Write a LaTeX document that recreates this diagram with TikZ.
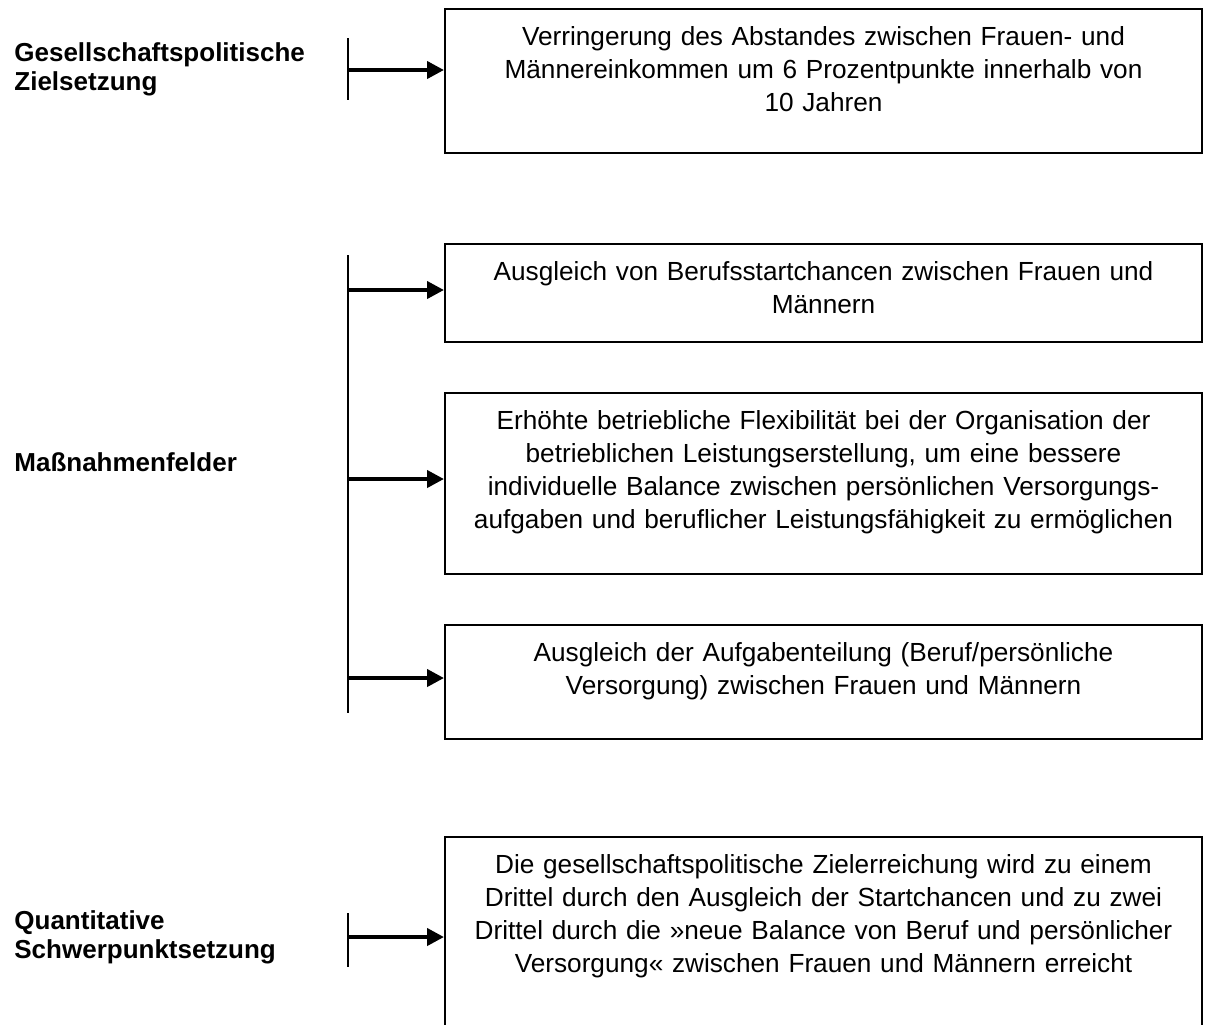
\documentclass[tikz,border=0pt]{standalone}
\usepackage{fontspec}
\setmainfont{Liberation Sans}
\usetikzlibrary{arrows.meta}
\tikzset{
	feld/.style={draw, line width=1pt, minimum width=378.5pt, inner sep=0pt},
	feldtext/.style={anchor=base, yshift=-18.5pt, text width=376pt, align=center, inner sep=0pt, font=\fontsize{13.1pt}{16.5pt}\selectfont},
	ebene/.style={anchor=base west, text width=160pt, align=left, inner sep=0pt, font=\fontsize{13pt}{14.5pt}\selectfont\bfseries},
	pfeil/.style={line width=2pt, -{Triangle[length=8.5pt,width=8.5pt]}},
	balken/.style={line width=1pt}
}
\begin{document}
\begin{tikzpicture}[x=0.5pt,y=-0.5pt]
				\useasboundingbox (0,0) rectangle (1218,1024);
				\clip (0,0) rectangle (1218,1024);
				
				\node[feld, minimum height=72pt] (ziel) at (823.5,81) {};
				\node[feld, minimum height=49pt] (feldA) at (823.5,293) {};
				\node[feld, minimum height=90.5pt] (feldB) at (823.5,483.5) {};
				\node[feld, minimum height=57pt] (feldC) at (823.5,682) {};
				\node[feld, minimum height=111.5pt] (schwer) at (823.5,948.5) {};
				
				\node[feldtext] (zielText) at (ziel.north) {Verringerung des Abstandes zwischen Frauen- und\\ Männereinkommen um 6 Prozentpunkte innerhalb von\\ 10 Jahren};
				\node[feldtext] (feldAText) at (feldA.north) {Ausgleich von Berufsstartchancen zwischen Frauen und\\ Männern};
				\node[feldtext] (feldBText) at (feldB.north) {Erhöhte betriebliche Flexibilität bei der Organisation der\\ betrieblichen Leistungserstellung, um eine bessere\\ individuelle Balance zwischen persönlichen Versorgungs-\\ aufgaben und beruflicher Leistungsfähigkeit zu ermöglichen};
				\node[feldtext] (feldCText) at (feldC.north) {Ausgleich der Aufgabenteilung (Beruf/persönliche\\ Versorgung) zwischen Frauen und Männern};
				\node[feldtext] (schwerText) at (schwer.north) {Die gesellschaftspolitische Zielerreichung wird zu einem\\ Drittel durch den Ausgleich der Startchancen und zu zwei\\ Drittel durch die »neue Balance von Beruf und persönlicher\\ Versorgung« zwischen Frauen und Männern erreicht};
				
				\node[ebene] (lblZiel) at (14,61) {Gesellschaftspolitische\\ Zielsetzung};
				\node[ebene] (lblFelder) at (14,471) {Maßnahmenfelder};
				\node[ebene] (lblSchwer) at (14,929) {Quantitative\\ Schwerpunktsetzung};
				
				\coordinate (oben1) at (348,38);
				\coordinate (unten1) at (348,100);
				\coordinate (oben2) at (348,255);
				\coordinate (unten2) at (348,713);
				\coordinate (oben3) at (348,913);
				\coordinate (unten3) at (348,967);
				\draw[balken] (oben1) -- (unten1);
				\draw[balken] (oben2) -- (unten2);
				\draw[balken] (oben3) -- (unten3);
				
				\coordinate (ast1) at (348,70);
				\coordinate (ast2) at (348,290);
				\coordinate (ast3) at (348,479);
				\coordinate (ast4) at (348,678);
				\coordinate (ast5) at (348,937);
				\draw[pfeil] (ast1) -- (ast1 -| ziel.west);
				\draw[pfeil] (ast2) -- (ast2 -| feldA.west);
				\draw[pfeil] (ast3) -- (ast3 -| feldB.west);
				\draw[pfeil] (ast4) -- (ast4 -| feldC.west);
				\draw[pfeil] (ast5) -- (ast5 -| schwer.west);
			\end{tikzpicture}
\end{document}
